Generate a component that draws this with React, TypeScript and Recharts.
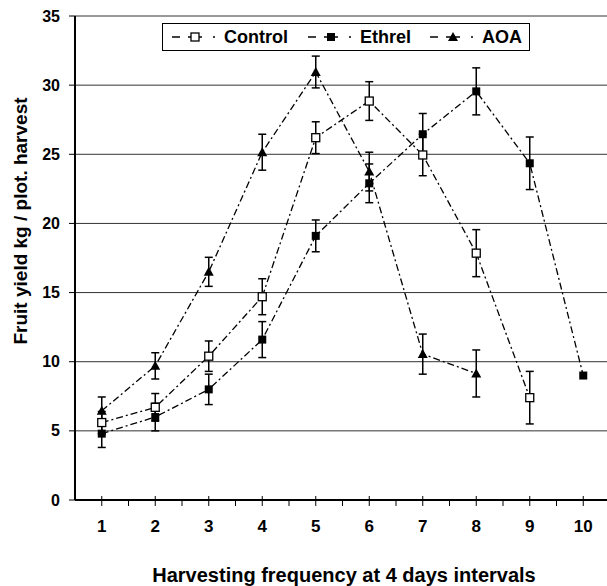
import React from 'react';
import { LineChart, Line, XAxis, YAxis, CartesianGrid, ErrorBar, Label } from 'recharts';

// harvest number (every 4 days)
const harvests = [1, 2, 3, 4, 5, 6, 7, 8, 9, 10];

const controlYield = [5.6, 6.7, 10.4, 14.7, 26.2, 28.85, 24.95, 17.85, 7.4];
const controlErr = [0.8, 1.0, 1.1, 1.3, 1.15, 1.4, 1.5, 1.7, 1.9];

const ethrelYield = [4.8, 6.0, 8.0, 11.6, 19.1, 22.9, 26.45, 29.55, 24.35, 9.0];
const ethrelErr = [1.0, 1.0, 1.1, 1.3, 1.15, 1.4, 1.5, 1.7, 1.9, 0];

const aoaYield = [6.45, 9.7, 16.5, 25.15, 30.95, 23.75, 10.55, 9.15];
const aoaErr = [1.0, 0.95, 1.05, 1.3, 1.15, 1.4, 1.45, 1.7];

const xTicks = [0.5, 1, 1.5, 2, 2.5, 3, 3.5, 4, 4.5, 5, 5.5, 6, 6.5, 7, 7.5, 8, 8.5, 9, 9.5, 10, 10.5];
const yTicks = [0, 5, 10, 15, 20, 25, 30, 35];

const FONT = 'Arial, "Liberation Sans", sans-serif';
const DASH = '7 3 2 3';

const rows = (vals: number[], errs: number[]) =>
  vals.map((v, i) => ({ x: harvests[i], y: v, err: errs[i] }));

const controlRows = rows(controlYield, controlErr);
const ethrelRows = rows(ethrelYield, ethrelErr);
const aoaRows = rows(aoaYield, aoaErr);

const OpenSquare = ({ cx, cy }: any) => (
  <rect x={cx - 4} y={cy - 4} width={8} height={8} fill="#fff" stroke="#000" strokeWidth={1.3} />
);
const FilledSquare = ({ cx, cy }: any) => (
  <rect x={cx - 4} y={cy - 4} width={8} height={8} fill="#000" />
);
const Triangle = ({ cx, cy }: any) => (
  <path d={`M${cx},${cy - 5} L${cx + 5},${cy + 4} L${cx - 5},${cy + 4} Z`} fill="#000" />
);

const XTick = ({ x, y, payload }: any) => {
  const major = Number.isInteger(payload.value);
  if (payload.value === 0.5) return null;
  return (
    <g>
      <line x1={x} x2={x} y1={major ? y - 4 : y} y2={y + 6} stroke="#000" strokeWidth={1} />
      {major && (
        <text x={x} y={y + 32} textAnchor="middle" fontFamily={FONT} fontWeight="bold" fontSize={17} fill="#000">
          {payload.value}
        </text>
      )}
    </g>
  );
};

const YTick = ({ x, y, payload }: any) => (
  <g>
    <line x1={x - 6} x2={x} y1={y} y2={y} stroke="#000" strokeWidth={1} />
    <text x={x - 15} y={y + 5.5} textAnchor="end" fontFamily={FONT} fontWeight="bold" fontSize={16} fill="#000">
      {payload.value}
    </text>
  </g>
);

const LegendIcon = ({ marker }: { marker: string }) => (
  <svg width={52} height={28} style={{ position: 'absolute', top: 0 }}>
    <line x1={0} x2={8} y1={14} y2={14} stroke="#000" strokeWidth={1.5} />
    <line x1={16} x2={30} y1={14} y2={14} stroke="#000" strokeWidth={1.5} />
    <line x1={41} x2={43} y1={14} y2={14} stroke="#000" strokeWidth={1.5} />
    {marker === 'open' && <OpenSquare cx={23} cy={14} />}
    {marker === 'filled' && <FilledSquare cx={23} cy={14} />}
    {marker === 'tri' && <Triangle cx={23} cy={14} />}
  </svg>
);

const legendItems = [
  { name: 'Control', marker: 'open', left: 9 },
  { name: 'Ethrel', marker: 'filled', left: 145 },
  { name: 'AOA', marker: 'tri', left: 267 },
];

const ChartLegend = () => (
  <div
    style={{
      position: 'absolute', left: 162, top: 23, width: 366, height: 26,
      border: '1px solid #000', background: '#fff', fontFamily: FONT,
    }}
  >
    {legendItems.map((it) => (
      <div key={it.name} style={{ position: 'absolute', left: it.left, top: -1, height: 28 }}>
        <LegendIcon marker={it.marker} />
        <span style={{ position: 'absolute', left: 52, top: 4, fontSize: 18, fontWeight: 'bold', lineHeight: '20px', whiteSpace: 'nowrap' }}>
          {it.name}
        </span>
      </div>
    ))}
  </div>
);

export default function App() {
  return (
    <div style={{ position: 'absolute', left: 0, top: 0, width: 607, height: 586, overflow: 'hidden', background: '#fff' }}>
      <LineChart width={610} height={586} margin={{ top: 16, right: 0, bottom: 0, left: 0 }}>
        <CartesianGrid horizontal vertical={false} stroke="#333" strokeWidth={1} />
        <XAxis
          dataKey="x"
          type="number"
          domain={[0.5, 10.5]}
          ticks={xTicks}
          interval={0}
          height={86}
          tickSize={0}
          tickMargin={0}
          tick={<XTick />}
          axisLine={{ stroke: '#000', strokeWidth: 2 }}
          allowDataOverflow
        >
          <Label
            content={() => (
              <text x={344} y={582} textAnchor="middle" fontFamily={FONT} fontWeight="bold" fontSize={20} fill="#000">
                Harvesting frequency at 4 days intervals
              </text>
            )}
          />
        </XAxis>
        <YAxis
          type="number"
          domain={[0, 35]}
          ticks={yTicks}
          interval={0}
          width={75}
          tickSize={0}
          tickMargin={0}
          tick={<YTick />}
          axisLine={{ stroke: '#000', strokeWidth: 2 }}
        >
          <Label
            content={() => (
              <text
                x={27}
                y={221}
                transform="rotate(-90 27 221)"
                textAnchor="middle"
                fontFamily={FONT}
                fontWeight="bold"
                fontSize={19}
                fill="#000"
              >
                Fruit yield kg / plot. harvest
              </text>
            )}
          />
        </YAxis>
        <Line
          data={ethrelRows}
          dataKey="y"
          name="Ethrel"
          stroke="#000"
          strokeWidth={1.3}
          strokeDasharray={DASH}
          dot={(p: any) => <FilledSquare key={`e-${p.index}`} cx={p.cx} cy={p.cy} />}
          activeDot={false}
          isAnimationActive={false}
        >
          <ErrorBar dataKey="err" width={4} stroke="#000" strokeWidth={1.5} direction="y" />
        </Line>
        <Line
          data={aoaRows}
          dataKey="y"
          name="AOA"
          stroke="#000"
          strokeWidth={1.3}
          strokeDasharray={DASH}
          dot={(p: any) => <Triangle key={`a-${p.index}`} cx={p.cx} cy={p.cy} />}
          activeDot={false}
          isAnimationActive={false}
        >
          <ErrorBar dataKey="err" width={4} stroke="#000" strokeWidth={1.5} direction="y" />
        </Line>
        <Line
          data={controlRows}
          dataKey="y"
          name="Control"
          stroke="#000"
          strokeWidth={1.3}
          strokeDasharray={DASH}
          dot={(p: any) => <OpenSquare key={`c-${p.index}`} cx={p.cx} cy={p.cy} />}
          activeDot={false}
          isAnimationActive={false}
        >
          <ErrorBar dataKey="err" width={4} stroke="#000" strokeWidth={1.5} direction="y" />
        </Line>
      </LineChart>
      <ChartLegend />
    </div>
  );
}
